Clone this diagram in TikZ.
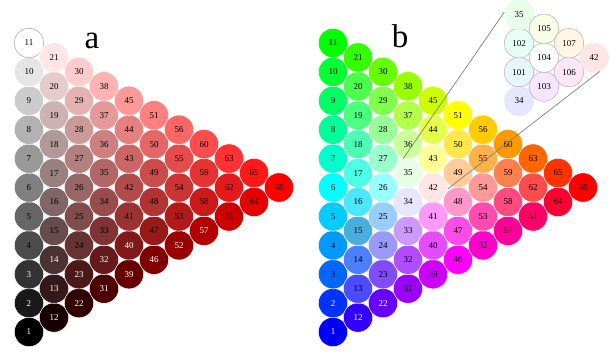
\documentclass[tikz,border=0pt]{standalone}
\usepackage{fontspec}
\setmainfont{Liberation Serif}
\usetikzlibrary{calc}

% colore di un punto (r,g,b) del triangolo, pesi con somma 10
\newcommand{\tintabari}[3]{%
  \pgfmathsetmacro\mm{min(#1,#2,#3)}%
  \pgfmathsetmacro\compr{1-max(0,10-\mm-2*(#1))/10}%
  \pgfmathsetmacro\compg{1-max(0,10-\mm-2*(#2))/10}%
  \pgfmathsetmacro\compb{1-max(0,10-\mm-2*(#3))/10}%
  \definecolor{tinta}{rgb}{\compr,\compg,\compb}}
% testo bianco sui dischi scuri, nero sugli altri
\newcommand{\sceglitesto}{%
  \colorlet{grigio}[gray]{tinta}%
  \extractcolorspecs{grigio}{\modg}{\valg}%
  \ifdim\valg pt<0.235pt \colorlet{scritta}{white}%
  \else\colorlet{scritta}{black}\fi}

\begin{document}
\begin{tikzpicture}[
  x=1pt, y=-1pt,
  every node/.style={font=\fontsize{9}{10}\selectfont},
  disco/.style={
    circle, minimum size=29.4pt, inner sep=0pt, line width=0.5pt
  },
  lente/.style={draw=gray, line width=0.7pt},
  lettera/.style={font=\fontsize{33}{36}\selectfont, anchor=base}
]
  \useasboundingbox (0,0) rectangle (611,353);

  % Pannello a: nero, bianco, rosso
  \foreach \i in {0,...,10}{
    \pgfmathtruncatemacro\jmax{10-\i}
    \foreach \j in {0,...,\jmax}{
      \pgfmathtruncatemacro\n{1+\j+\i*(23-\i)/2}
      \pgfmathsetmacro\compr{(\i+\j)/10}
      \pgfmathsetmacro\compg{\j/10}
      \definecolor{tinta}{rgb}{\compr,\compg,\compg}
      \sceglitesto
      \ifnum\n=11 \colorlet{orlo}{gray!70}\else\colorlet{orlo}{white}\fi
      \node[disco, draw=orlo, fill=tinta, text=scritta] (a\n)
        at (29+25*\i, 332-28.9*\j-14.45*\i) {\n};
    }
  }

  % Pannello b: blu, verde, rosso
  \foreach \i in {0,...,10}{
    \pgfmathtruncatemacro\jmax{10-\i}
    \foreach \j in {0,...,\jmax}{
      \pgfmathtruncatemacro\n{1+\j+\i*(23-\i)/2}
      \tintabari{\i}{\j}{10-\i-\j}
      \ifnum\n=15 \definecolor{tinta}{HTML}{4AAEDC}\fi
      \sceglitesto
      \node[disco, draw=white, fill=tinta, text=scritta] (b\n)
        at (333+25*\i, 332-28.9*\j-14.45*\i) {\n};
    }
  }

  % Ingrandimento attorno a 34, 35, 42
  \foreach \col/\rig/\n in {0/0/34, 0/1/101, 0/2/102, 0/3/35, 1/0/103,
                            1/1/104, 1/2/105, 2/0/106, 2/1/107, 3/0/42}{
    \tintabari{3+\col/3}{3+\rig/3}{4-(\col+\rig)/3}
    \ifnum\n>100 \colorlet{orlo}{gray!60}\else\colorlet{orlo}{tinta}\fi
    \node[disco, draw=orlo, fill=tinta] (z\n)
      at (519+25*\col, 101-28.9*\rig-14.45*\col) {\n};
  }

  % Linee della lente
  \draw[lente] (b35.110) -- (z35.172);
  \draw[lente] (b42.-5) -- (z42.-68);

  % Lettere dei pannelli
  \node[lettera] (pa) at (92,49) {a};
  \node[lettera] (pb) at (400,48) {b};

\end{tikzpicture}
\end{document}
